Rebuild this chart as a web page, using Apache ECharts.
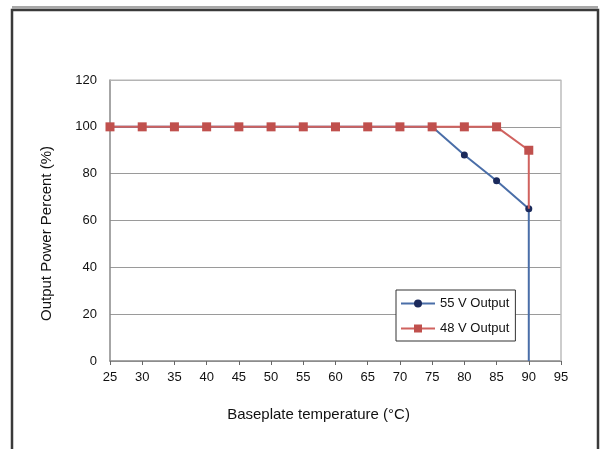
<!DOCTYPE html>
<html>
<head>
<meta charset="utf-8">
<script src="https://cdn.jsdelivr.net/npm/echarts@6/dist/echarts.min.js"></script>
<style>
  html, body { margin: 0; padding: 0; background: #fff; }
  #chart { width: 600px; height: 449px; }
</style>
</head>
<body>
<div id="chart"></div>
<script>
// temperature (°C) / output power (%)
const xTicks = [25, 30, 35, 40, 45, 50, 55, 60, 65, 70, 75, 80, 85, 90, 95]
const yTicks = [0, 20, 40, 60, 80, 100, 120]

const temp55 = [25, 30, 35, 40, 45, 50, 55, 60, 65, 70, 75, 80, 85, 90, 90]
const power55 = [100, 100, 100, 100, 100, 100, 100, 100, 100, 100, 100, 88, 77, 65, 0]

const temp48 = [25, 30, 35, 40, 45, 50, 55, 60, 65, 70, 75, 80, 85, 90, 90]
const power48 = [100, 100, 100, 100, 100, 100, 100, 100, 100, 100, 100, 100, 100, 90, 65]

const font = 'Liberation Sans, Arial, sans-serif'

const chart = echarts.init(document.getElementById('chart'))

// last point of each series is just the drop-off, no marker
const pts = (xs, ys) => xs.map((x, i) => ({
  value: [x, ys[i]],
  symbol: i === xs.length - 1 ? 'none' : undefined
}))

chart.setOption({
  animation: false,
  backgroundColor: '#fff',
  textStyle: { fontFamily: font },
  grid: { left: 110, right: 39, top: 80, bottom: 88 },
  graphic: [
    {
      type: 'rect',
      shape: { x: 12, y: 10, width: 586, height: 460 },
      style: { fill: null, stroke: '#3a3a3a', lineWidth: 2.5 },
      z: 100
    },
    {
      type: 'rect',
      shape: { x: 12, y: 6, width: 586, height: 3 },
      style: { fill: '#a8a8a8' },
      z: 100
    }
  ],
  legend: {
    orient: 'vertical',
    left: 396,
    top: 290,
    itemGap: 12,
    itemWidth: 34,
    itemHeight: 10,
    padding: [7, 6, 6, 4],
    backgroundColor: '#fff',
    borderColor: '#333',
    borderWidth: 1,
    borderRadius: 0,
    textStyle: { fontFamily: font, fontSize: 13, color: '#111' },
    data: ['55 V Output', '48 V Output']
  },
  xAxis: {
    type: 'value',
    min: 25,
    max: 95,
    interval: 5,
    name: 'Baseplate temperature (°C)',
    nameLocation: 'middle',
    nameGap: 46,
    nameTextStyle: { fontFamily: font, fontSize: 15, color: '#111', padding: [0, 34, 0, 0] },
    axisLine: { onZero: false, lineStyle: { color: '#888', width: 1.5 } },
    axisTick: { show: true, length: 4, inside: false, lineStyle: { color: '#666' } },
    axisLabel: { fontFamily: font, fontSize: 13, color: '#111', margin: 10 },
    splitLine: { show: false }
  },
  yAxis: {
    type: 'value',
    min: 0,
    max: 120,
    interval: 20,
    name: 'Output Power Percent (%)',
    nameLocation: 'middle',
    nameGap: 56,
    nameTextStyle: { fontFamily: font, fontSize: 15, color: '#111', padding: [0, 26, 0, 0] },
    axisLine: { show: true, lineStyle: { color: '#888', width: 1.5 } },
    axisTick: { show: false },
    axisLabel: { fontFamily: font, fontSize: 13, color: '#111', margin: 13 },
    splitLine: { lineStyle: { color: '#9a9a9a', width: 1 } }
  },
  series: [
    {
      name: '55 V Output',
      type: 'line',
      data: pts(temp55, power55),
      symbol: 'circle',
      symbolSize: 7,
      lineStyle: { color: '#4a6ea8', width: 2 },
      itemStyle: { color: '#1b2a5c', borderWidth: 0 },
      z: 2
    },
    {
      name: '48 V Output',
      type: 'line',
      data: pts(temp48, power48),
      symbol: 'rect',
      symbolSize: 9,
      lineStyle: { color: '#d0625f', width: 2 },
      itemStyle: { color: '#c0504d', borderWidth: 0 },
      z: 3
    },
    {
      // light top / right frame of the plot
      type: 'line',
      silent: true,
      symbol: 'none',
      data: [[25, 120], [95, 120], [95, 0]],
      lineStyle: { color: '#bdbdbd', width: 1.5 },
      z: 1
    }
  ]
})
</script>
</body>
</html>
